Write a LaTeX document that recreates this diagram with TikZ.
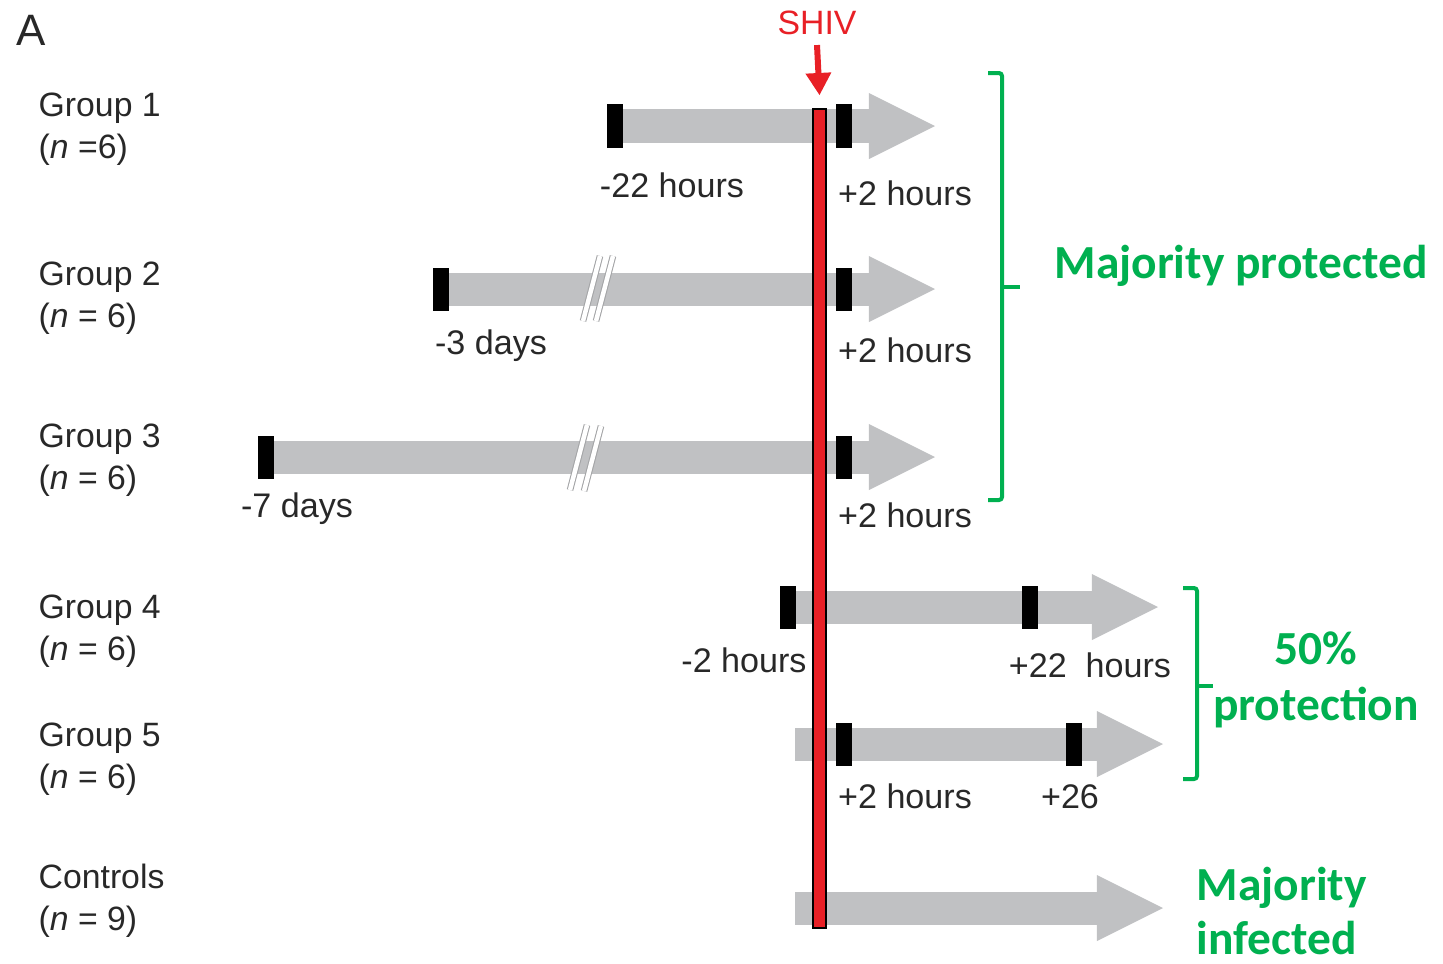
\documentclass[tikz,border=0pt]{standalone}
\usepackage{fontspec}
\setmainfont{Liberation Sans}
\newfontfamily\calibri{Carlito}
\usetikzlibrary{arrows.meta,positioning}
\definecolor{bargray}{RGB}{192,193,195}
\definecolor{shivred}{RGB}{232,32,38}
\definecolor{labgreen}{RGB}{0,176,80}
\definecolor{labtext}{RGB}{40,40,40}

\begin{document}
\begin{tikzpicture}[x=0.01cm, y=-0.01cm,
    timeline/.style={draw=bargray, line width=0.33cm, -{Triangle[length=0.66cm 0 0, width=0.66cm 0 0, line width=0pt 0 0]}},
    tick/.style={fill=black, inner sep=0, minimum width=0.16cm, minimum height=0.43cm},
    grouplab/.style={anchor=north west, align=left, inner sep=0, text=labtext, font=\fontsize{9.6}{11.9}\selectfont},
    timelab/.style={anchor=base, inner sep=0, text=labtext, font=\fontsize{9.7}{11.6}\selectfont},
    outcome/.style={inner sep=0, text=labgreen, font=\calibri\bfseries\fontsize{13.5}{15.9}\selectfont},
    brk/.style={draw=bargray!85!black, double=white, double distance=0.045cm, line width=0.3pt},
    bracegreen/.style={draw=labgreen, line width=0.04cm, rounded corners=0.03cm}
  ]
    \useasboundingbox (0,0) rectangle (1443,963);

    \node[anchor=base west, inner sep=0, text=labtext, font=\fontsize{12.5}{14}\selectfont] (panel) at (16,45) {A};

    % groups
    \node[grouplab] (g1) at (38,92) {Group 1\\(\textit{n} =6)};
    \node[grouplab] (g2) at (38,261) {Group 2\\(\textit{n} = 6)};
    \node[grouplab] (g3) at (38,423) {Group 3\\(\textit{n} = 6)};
    \node[grouplab] (g4) at (38,594) {Group 4\\(\textit{n} = 6)};
    \node[grouplab] (g5) at (38,722) {Group 5\\(\textit{n} = 6)};
    \node[grouplab] (gc) at (38,863) {Controls\\(\textit{n} = 9)};

    % dosing timelines
    \coordinate (t1s) at (615,126);  \coordinate (t1e) at (935,126);
    \coordinate (t2s) at (441,289);  \coordinate (t2e) at (935,289);
    \coordinate (t3s) at (266,457);  \coordinate (t3e) at (935,457);
    \coordinate (t4s) at (788,607);  \coordinate (t4e) at (1158,607);
    \coordinate (t5s) at (795,744);  \coordinate (t5e) at (1163,744);
    \coordinate (tcs) at (795,908);  \coordinate (tce) at (1163,908);
    \draw[timeline] (t1s) -- (t1e);
    \draw[timeline] (t2s) -- (t2e);
    \draw[timeline] (t3s) -- (t3e);
    \draw[timeline] (t4s) -- (t4e);
    \draw[timeline] (t5s) -- (t5e);
    \draw[timeline] (tcs) -- (tce);

    % axis breaks
    \draw[brk] (583,321) -- (600,256);
    \draw[brk] (596,321) -- (613,256);
    \draw[brk] (570,490) -- (587,425);
    \draw[brk] (584,491) -- (601,426);

    % challenge
    \node[draw=black, fill=shivred, line width=0.45pt, inner sep=0, minimum width=0.13cm, minimum height=8.19cm, anchor=north] (bar) at (819.5,108) {};
    \node[timelab, text=shivred, font=\fontsize{9.6}{11.5}\selectfont] (shiv) at (817,34) {SHIV};
    \draw[draw=shivred, line width=0.06cm, -{Triangle[length=0.22cm 0 0, width=0.26cm 0 0, line width=0pt 0 0]}] ([yshift=-0.1cm]shiv.south) -- ([yshift=0.13cm]bar.north);

    % doses
    \node[tick] (m1a) at (615,126) {};
    \node[tick] (m1b) at (844,126) {};
    \node[tick] (m2a) at (441,289) {};
    \node[tick] (m2b) at (844,289) {};
    \node[tick] (m3a) at (266,457) {};
    \node[tick] (m3b) at (844,457) {};
    \node[tick] (m4a) at (788,607) {};
    \node[tick] (m4b) at (1030,607) {};
    \node[tick] (m5a) at (844,744) {};
    \node[tick] (m5b) at (1074,744) {};

    \node[timelab] (l1a) at (672,197) {-22 hours};
    \node[timelab] (l1b) at (905,205) {+2 hours};
    \node[timelab] (l2a) at (491,354) {-3 days};
    \node[timelab] (l2b) at (905,362) {+2 hours};
    \node[timelab] (l3a) at (297,517) {-7 days};
    \node[timelab] (l3b) at (905,527) {+2 hours};
    \node[timelab] (l4a) at (744,672) {-2 hours};
    \node[timelab] (l4b) at (1090,677) {+22~ hours};
    \node[timelab] (l5a) at (905,808) {+2 hours};
    \node[timelab] (l5b) at (1070,808) {+26};

    % outcomes
    \draw[bracegreen] (988,73) -- (1002,73) -- (1002,500) -- (988,500);
    \draw[bracegreen] (1002,287) -- (1020,287);
    \draw[bracegreen] (1183,588) -- (1197,588) -- (1197,779) -- (1183,779);
    \draw[bracegreen] (1197,686) -- (1213,686);
    \node[outcome, anchor=base] (prot) at (1241,278) {Majority protected};
    \node[outcome, align=center, anchor=north] (half) at (1316,631) {50\%\\protection};
    \node[outcome, align=left, anchor=north west, font=\calibri\bfseries\fontsize{13.5}{15.4}\selectfont] (inf) at (1196,866) {Majority\\infected};
  \end{tikzpicture}
\end{document}
